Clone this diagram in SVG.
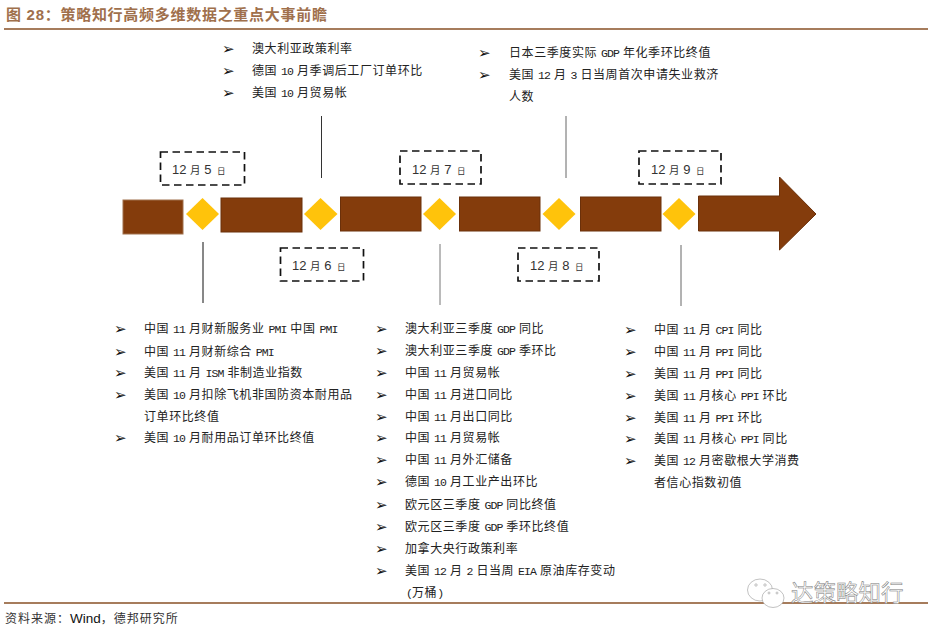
<svg xmlns="http://www.w3.org/2000/svg" width="935" height="635" viewBox="0 0 935 635">
<style>
text{font-family:"Liberation Sans","Noto Sans CJK SC",sans-serif;fill:#222}
.i{font-size:12px;letter-spacing:.58px}
.n{font-family:"Liberation Mono",monospace;font-size:11.500px;letter-spacing:-.9px}
.b{font-family:"DejaVu Sans",sans-serif;font-size:15px;fill:#111}
.d{font-size:13px;fill:#333}
.m{font-size:10.500px}
.r{font-size:8.500px}
.bar{fill:#843c0c;stroke:#6b300a;stroke-width:1}
.dia{fill:#ffc30b}
.box{fill:none;stroke:#111;stroke-width:1.700;stroke-dasharray:7.500 4.500}
.rule{stroke:#a67c5c;stroke-width:2.200}
</style>
<rect width="935" height="635" fill="#fff"/>
<g id="header">
<text x="6" y="20" style="font-size:15px;font-weight:700;fill:#a0704c;letter-spacing:.72px">图 28：策略知行高频多维数据之重点大事前瞻</text>
<line class="rule" x1="4" y1="29" x2="928" y2="29"/>
</g>
<g id="connectors" stroke-width="1">
<line x1="203" y1="242" x2="203" y2="303" stroke="#111"/>
<line x1="321.500" y1="116" x2="321.500" y2="178" stroke="#333"/>
<line x1="440" y1="244" x2="440" y2="305" stroke="#777"/>
<line x1="566" y1="116" x2="566" y2="178" stroke="#666"/>
<line x1="681" y1="245" x2="681" y2="306" stroke="#666"/>
</g>
<g id="timeline">
<rect class="bar" x="123" y="200" width="60" height="34" style="stroke:#a0704c"/>
<rect class="bar" x="221" y="198" width="81" height="34"/>
<rect class="bar" x="340.500" y="197" width="80.500" height="34"/>
<rect class="bar" x="459.500" y="197" width="80.500" height="34"/>
<rect class="bar" x="580.500" y="197" width="80.500" height="34"/>
<polygon class="bar" points="698.500,196 779.500,196 779.500,177 816,214 779.500,250 779.500,231 698.500,231"/>
</g>
<g id="d1"><polygon class="dia" points="202.500,198 219,214 202.500,230 186,214"/></g>
<g id="d2"><polygon class="dia" points="320.500,198 337.500,214 320.500,230 304,214"/></g>
<g id="d3"><polygon class="dia" points="439.500,198 456,214 439.500,230 423,214"/></g>
<g id="d4"><polygon class="dia" points="559,198 575.500,214 559,230 542.500,214"/></g>
<g id="d5"><polygon class="dia" points="679,198 695.500,214 679,230 662.500,214"/></g>
<g id="date5"><rect class="box" x="160.500" y="152" width="84" height="33"/><text class="d" x="172" y="174">12 <tspan class="m">月</tspan> 5 <tspan class="r" dx="2">日</tspan></text></g>
<g id="date7"><rect class="box" x="400" y="151" width="81" height="33"/><text class="d" x="412" y="173.500">12 <tspan class="m">月</tspan> 7 <tspan class="r" dx="2">日</tspan></text></g>
<g id="date6"><rect class="box" x="280.500" y="248" width="83" height="33"/><text class="d" x="292" y="269.500">12 <tspan class="m">月</tspan> 6 <tspan class="r" dx="2">日</tspan></text></g>
<g id="date8"><rect class="box" x="518" y="248" width="81" height="33"/><text class="d" x="530" y="270">12 <tspan class="m">月</tspan> 8 <tspan class="r" dx="2">日</tspan></text></g>
<g id="date9"><rect class="box" x="639" y="151" width="82" height="33"/><text class="d" x="651" y="173.500">12 <tspan class="m">月</tspan> 9 <tspan class="r" dx="2">日</tspan></text></g>
<g id="list-top1">
<text class="b" x="222" y="54">➢</text><text class="i" x="252" y="53">澳大利亚政策利率</text>
<text class="b" x="222" y="76">➢</text><text class="i" x="252" y="75">德国 <tspan class="n">10</tspan> 月季调后工厂订单环比</text>
<text class="b" x="222" y="98">➢</text><text class="i" x="252" y="97">美国 <tspan class="n">10</tspan> 月贸易帐</text>
</g>
<g id="list-top2">
<text class="b" x="478" y="58">➢</text><text class="i" x="509" y="57">日本三季度实际 <tspan class="n">GDP</tspan> 年化季环比终值</text>
<text class="b" x="478" y="80">➢</text><text class="i" x="509" y="79">美国 <tspan class="n">12</tspan> 月 <tspan class="n">3</tspan> 日当周首次申请失业救济</text>
<text class="i" x="509" y="101">人数</text>
</g>
<g id="list-a">
<text class="b" x="114" y="334">➢</text><text class="i" x="144" y="333">中国 <tspan class="n">11</tspan> 月财新服务业 <tspan class="n">PMI</tspan> 中国 <tspan class="n">PMI</tspan></text>
<text class="b" x="114" y="357">➢</text><text class="i" x="144" y="356">中国 <tspan class="n">11</tspan> 月财新综合 <tspan class="n">PMI</tspan></text>
<text class="b" x="114" y="378">➢</text><text class="i" x="144" y="377">美国 <tspan class="n">11</tspan> 月 <tspan class="n">ISM</tspan> 非制造业指数</text>
<text class="b" x="114" y="400">➢</text><text class="i" x="144" y="399">美国 <tspan class="n">10</tspan> 月扣除飞机非国防资本耐用品</text>
<text class="i" x="144" y="421">订单环比终值</text>
<text class="b" x="114" y="443">➢</text><text class="i" x="144" y="442">美国 <tspan class="n">10</tspan> 月耐用品订单环比终值</text>
</g>
<g id="list-b">
<text class="b" x="375" y="334">➢</text><text class="i" x="405" y="333">澳大利亚三季度 <tspan class="n">GDP</tspan> 同比</text>
<text class="b" x="375" y="356">➢</text><text class="i" x="405" y="355">澳大利亚三季度 <tspan class="n">GDP</tspan> 季环比</text>
<text class="b" x="375" y="378">➢</text><text class="i" x="405" y="377">中国 <tspan class="n">11</tspan> 月贸易帐</text>
<text class="b" x="375" y="400">➢</text><text class="i" x="405" y="399">中国 <tspan class="n">11</tspan> 月进口同比</text>
<text class="b" x="375" y="422">➢</text><text class="i" x="405" y="421">中国 <tspan class="n">11</tspan> 月出口同比</text>
<text class="b" x="375" y="443">➢</text><text class="i" x="405" y="442">中国 <tspan class="n">11</tspan> 月贸易帐</text>
<text class="b" x="375" y="465">➢</text><text class="i" x="405" y="464">中国 <tspan class="n">11</tspan> 月外汇储备</text>
<text class="b" x="375" y="487">➢</text><text class="i" x="405" y="486">德国 <tspan class="n">10</tspan> 月工业产出环比</text>
<text class="b" x="375" y="510">➢</text><text class="i" x="405" y="509">欧元区三季度 <tspan class="n">GDP</tspan> 同比终值</text>
<text class="b" x="375" y="532">➢</text><text class="i" x="405" y="531">欧元区三季度 <tspan class="n">GDP</tspan> 季环比终值</text>
<text class="b" x="375" y="554">➢</text><text class="i" x="405" y="553">加拿大央行政策利率</text>
<text class="b" x="375" y="576">➢</text><text class="i" x="405" y="575">美国 <tspan class="n">12</tspan> 月 <tspan class="n">2</tspan> 日当周 <tspan class="n">EIA</tspan> 原油库存变动</text>
<text class="i" x="406" y="597"><tspan class="n">(</tspan>万桶<tspan class="n">)</tspan></text>
</g>
<g id="list-c">
<text class="b" x="624" y="335">➢</text><text class="i" x="654" y="334">中国 <tspan class="n">11</tspan> 月 <tspan class="n">CPI</tspan> 同比</text>
<text class="b" x="624" y="357">➢</text><text class="i" x="654" y="356">中国 <tspan class="n">11</tspan> 月 <tspan class="n">PPI</tspan> 同比</text>
<text class="b" x="624" y="379">➢</text><text class="i" x="654" y="378">美国 <tspan class="n">11</tspan> 月 <tspan class="n">PPI</tspan> 同比</text>
<text class="b" x="624" y="401">➢</text><text class="i" x="654" y="400">美国 <tspan class="n">11</tspan> 月核心 <tspan class="n">PPI</tspan> 环比</text>
<text class="b" x="624" y="423">➢</text><text class="i" x="654" y="422">美国 <tspan class="n">11</tspan> 月 <tspan class="n">PPI</tspan> 环比</text>
<text class="b" x="624" y="444">➢</text><text class="i" x="654" y="443">美国 <tspan class="n">11</tspan> 月核心 <tspan class="n">PPI</tspan> 同比</text>
<text class="b" x="624" y="466">➢</text><text class="i" x="654" y="465">美国 <tspan class="n">12</tspan> 月密歇根大学消费</text>
<text class="i" x="654" y="487">者信心指数初值</text>
</g>
<g id="footer">
<line class="rule" x1="4" y1="603" x2="928" y2="603"/>
<text x="5" y="623" style="font-size:12px;fill:#333;letter-spacing:1px">资料来源：<tspan fill="#111" style="font-size:13.500px;letter-spacing:0">Wind</tspan>，德邦研究所</text>
</g>
<g id="watermark" fill="#fff" stroke="#999" stroke-width=".6">
<ellipse cx="760" cy="590" rx="12.500" ry="11"/>
<ellipse cx="773" cy="598" rx="11" ry="9.500"/>
<circle cx="756" cy="585" r="1.200"/><circle cx="765" cy="585" r="1.200"/><circle cx="769" cy="593" r="1"/><circle cx="777" cy="593" r="1"/>
<text x="791" y="601" style="font-size:22.500px;fill:#fff;stroke:#777;stroke-width:.5">达策略知行</text>
</g>
</svg>
